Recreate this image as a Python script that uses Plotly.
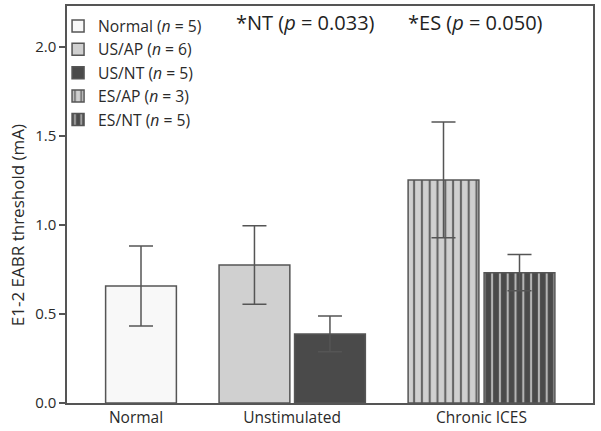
import plotly.graph_objects as go

# Data
series_names = ["Normal", "US/AP", "US/NT", "ES/AP", "ES/NT"]
series_n = [5, 6, 5, 3, 5]
means = [0.657, 0.775, 0.388, 1.253, 0.732]
errors = [0.225, 0.22, 0.10, 0.325, 0.102]
group_labels = ["Normal", "Unstimulated", "Chronic ICES"]
y_ticks = [0.0, 0.5, 1.0, 1.5, 2.0]

# Layout (positions in bar-width units)
bar_x = [1.035, 2.622, 3.678, 5.266, 6.329]
group_x = [0.965, 3.147, 5.797]
fills = ["#f8f8f8", "#d0d0d0", "#4a4a4a", "#d0d0d0", "#4a4a4a"]
patterns = [None, None, None,
            dict(shape="|", fgcolor="#666666", bgcolor="#d0d0d0", size=7.8, solidity=0.27, fillmode="replace"),
            dict(shape="|", fgcolor="#b4b4b4", bgcolor="#4a4a4a", size=7.8, solidity=0.27, fillmode="replace")]

FONT = "Open Sans"
TXT = "#2a2a2a"
fig = go.Figure()
for i, name in enumerate(series_names):
    marker = dict(color=fills[i], line=dict(color="#555555", width=1.5))
    if patterns[i]:
        marker["pattern"] = patterns[i]
    fig.add_trace(go.Bar(
        x=[bar_x[i]], y=[means[i]], width=0.99,
        name=f"{name} (<i>n</i> = {series_n[i]})",
        marker=marker,
        error_y=dict(type="data", array=[errors[i]], color="#555555", thickness=1.5, width=12),
    ))

fig.update_layout(
    width=601, height=431,
    margin=dict(l=67, r=8, t=6, b=28, autoexpand=False),
    plot_bgcolor="white", paper_bgcolor="white",
    font=dict(family=FONT, color=TXT, size=14),
    barmode="overlay",
    legend=dict(x=-0.017, y=0.992, xanchor="left", yanchor="top",
                font=dict(size=15.7, family=FONT, color=TXT),
                bgcolor="rgba(0,0,0,0)", tracegroupgap=0, itemwidth=30),
    showlegend=True,
)
fig.update_xaxes(range=[0, 7.357], tickmode="array", tickvals=group_x, ticktext=group_labels,
                 showline=True, linecolor="#555555", linewidth=1.5, mirror=True,
                 ticks="", showgrid=False, zeroline=False, automargin=False,
                 tickfont=dict(size=15.5, family=FONT, color=TXT))
fig.update_yaxes(range=[0, 2.23], tickvals=y_ticks,
                 ticktext=[f"{v:.1f}" for v in y_ticks],
                 showline=True, linecolor="#555555", linewidth=1.5, mirror=True,
                 ticks="outside", ticklen=6, tickwidth=1.5, tickcolor="#555555",
                 showgrid=False, zeroline=False, automargin=False,
                 tickfont=dict(size=15, family=FONT, color=TXT))

fig.add_annotation(x=-0.095, y=0.448, xref="paper", yref="paper", xanchor="center", yanchor="middle",
                   text="E1-2 EABR threshold (mA)", textangle=-90, showarrow=False,
                   font=dict(size=17, family=FONT, color=TXT))
fig.add_annotation(x=0.4525, y=0.958, xref="paper", yref="paper", xanchor="center", yanchor="middle",
                   text="*NT (<i>p</i> = 0.033)", showarrow=False, font=dict(size=20, family=FONT, color="#222222"))
fig.add_annotation(x=0.776, y=0.958, xref="paper", yref="paper", xanchor="center", yanchor="middle",
                   text="*ES (<i>p</i> = 0.050)", showarrow=False, font=dict(size=20, family=FONT, color="#222222"))

fig.write_html("out.html", config={"displayModeBar": False},
               post_script="document.body.style.margin='0';document.body.style.padding='0';")
